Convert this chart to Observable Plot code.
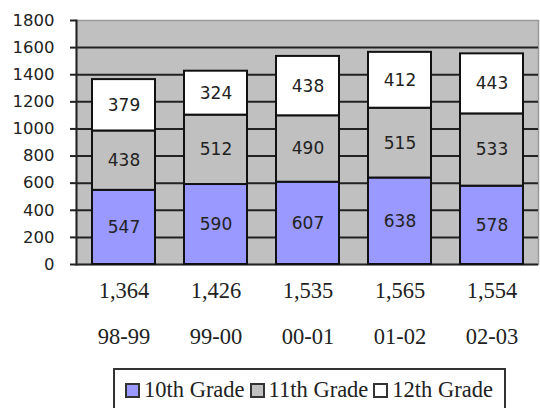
<!DOCTYPE html>
<html>
<head>
<meta charset="utf-8">
<script src="https://cdn.jsdelivr.net/npm/d3@7"></script>
<script src="https://cdn.jsdelivr.net/npm/@observablehq/plot@0.6"></script>
<style>
  html, body { margin: 0; padding: 0; background: #fff; }
  #wrap { position: relative; width: 540px; height: 408px; overflow: hidden; }
  #legend {
    position: absolute; left: 113px; top: 368px; width: 393px; height: 50px;
    border: 2px solid #333; box-sizing: border-box; background: #fff;
    font-family: "Liberation Serif", "Times New Roman", serif; font-size: 22.5px; color: #222;
    display: flex; align-items: flex-start; padding: 7px 0 0 10px; white-space: nowrap;
  }
  .item { display: flex; align-items: center; margin-right: 5px; }
  .sw { width: 11px; height: 11px; border: 2px solid #333; margin-right: 4px; }
</style>
</head>
<body>
<div id="wrap">
  <div id="chart"></div>
  <div id="legend"></div>
</div>
<script>
const years = ["98-99", "99-00", "00-01", "01-02", "02-03"];
const grades = ["10th Grade", "11th Grade", "12th Grade"];
const colors = ["#9999ff", "#c0c0c0", "#ffffff"];
const grade10 = [547, 590, 607, 638, 578];
const grade11 = [438, 512, 490, 515, 533];
const grade12 = [379, 324, 438, 412, 443];
const yTicks = [0, 200, 400, 600, 800, 1000, 1200, 1400, 1600, 1800];

const series = [grade10, grade11, grade12];
const data = [];
years.forEach((yr, i) => {
  grades.forEach((g, j) => data.push({year: yr, grade: g, value: series[j][i]}));
});
const totals = years.map((yr, i) => ({year: yr, total: d3.sum(series, s => s[i])}));

const H = 366;
const chart = Plot.plot({
  width: 540,
  height: H,
  marginTop: 20,
  marginBottom: H - 264,
  marginLeft: 76,
  marginRight: 2,
  x: {domain: years, paddingInner: 0.32, paddingOuter: 0.16, axis: null},
  y: {domain: [0, 1800], axis: null},
  color: {domain: grades, range: colors},
  style: {background: "#fff", overflow: "visible"},
  marks: [
    Plot.frame({fill: "#c0c0c0", stroke: "#999", strokeWidth: 1.5}),
    Plot.ruleY(yTicks.filter(d => d < 1800), {stroke: "#222", strokeWidth: 2}),
    Plot.barY(data, {x: "year", y: "value", z: "grade", fill: "grade", stroke: "#111", strokeWidth: 2}),
    Plot.text(data, Plot.stackY({x: "year", y: "value", z: "grade", text: "value",
      fontFamily: "DejaVu Sans", fontSize: 17, fill: "#222"})),
    Plot.frame({anchor: "left", stroke: "#222", strokeWidth: 2}),
    Plot.axisY({ticks: yTicks, tickSize: 6, tickPadding: 16, stroke: "#222", strokeWidth: 2, label: null,
      fontFamily: "DejaVu Sans", fontSize: 16.5, fill: "#222", tickFormat: d => String(d)}),
    Plot.text(totals, {x: "year", text: d => d3.format(",")(d.total), frameAnchor: "bottom", dy: 33,
      fontFamily: "Liberation Serif", fontSize: 22.5, fill: "#222"}),
    Plot.text(years, {x: d => d, text: d => d, frameAnchor: "bottom", dy: 79,
      fontFamily: "Liberation Serif", fontSize: 22.5, fill: "#222"})
  ]
});
document.getElementById("chart").appendChild(chart);

const legend = document.getElementById("legend");
grades.forEach((g, i) => {
  const item = document.createElement("div");
  item.className = "item";
  const sw = document.createElement("span");
  sw.className = "sw";
  sw.style.background = colors[i];
  const t = document.createElement("span");
  t.textContent = g;
  item.appendChild(sw); item.appendChild(t);
  legend.appendChild(item);
});
</script>
</body>
</html>
